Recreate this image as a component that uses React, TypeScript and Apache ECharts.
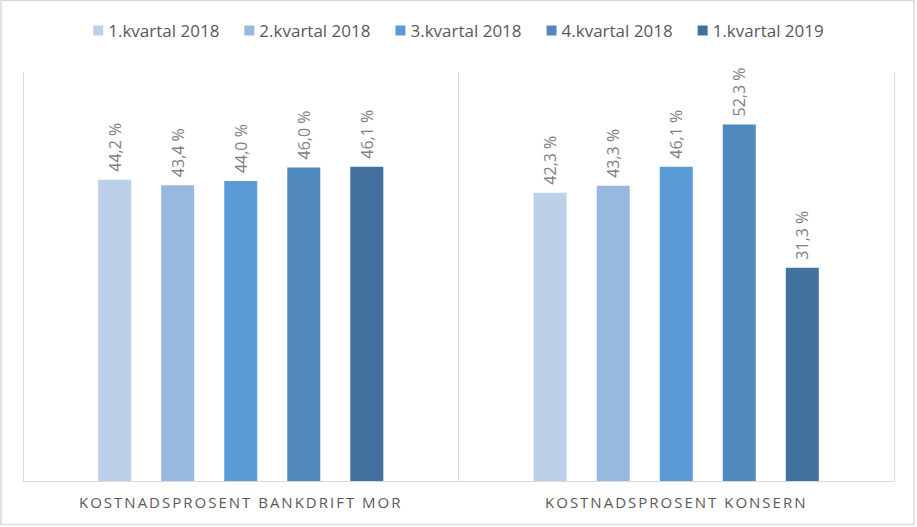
import React, { useEffect, useRef } from "react";
import * as echarts from "echarts";

const categories = ["KOSTNADSPROSENT BANKDRIFT MOR", "KOSTNADSPROSENT KONSERN"];
const seriesNames = ["1.kvartal 2018", "2.kvartal 2018", "3.kvartal 2018", "4.kvartal 2018", "1.kvartal 2019"];
const q1_2018 = [44.2, 42.3];
const q2_2018 = [43.4, 43.3];
const q3_2018 = [44.0, 46.1];
const q4_2018 = [46.0, 52.3];
const q1_2019 = [46.1, 31.3];
const seriesValues = [q1_2018, q2_2018, q3_2018, q4_2018, q1_2019];
const colors = ["#BDD0E9", "#97B9E0", "#5B9BD5", "#4F89BE", "#41719C"];

export default function App() {
  const ref = useRef<HTMLDivElement>(null);
  useEffect(() => {
    if (!ref.current) return;
    const chart = echarts.init(ref.current, null, { renderer: "svg" });
    chart.setOption({
      animation: false,
      backgroundColor: "#ffffff",
      textStyle: { fontFamily: "Open Sans" },
      graphic: [
        {
          type: "rect",
          shape: { x: 1, y: 0.5, width: 913, height: 524 },
          style: { fill: "none", stroke: "#D9D9D9", lineWidth: 1.5 },
          silent: true,
        },
      ],
      legend: {
        top: 17,
        left: "center",
        itemWidth: 10,
        itemHeight: 10,
        itemGap: 25,
        icon: "rect",
        textStyle: { color: "#595959", fontSize: 17, fontFamily: "Open Sans" },
        data: seriesNames,
      },
      grid: { left: 23, right: 23, top: 72, bottom: 46, containLabel: false },
      xAxis: {
        type: "category",
        data: categories,
        axisLine: { lineStyle: { color: "#D9D9D9", width: 1 } },
        axisTick: { show: false },
        splitLine: { show: true, lineStyle: { color: "#D9D9D9", width: 1 } },
        axisLabel: { color: "#595959", fontSize: 15, margin: 13, fontFamily: "Open Sans" },
      },
      yAxis: {
        type: "value",
        min: 0,
        max: 60,
        show: false,
        splitLine: { show: false },
      },
      series: seriesValues.map((vals, i) => ({
        name: seriesNames[i],
        type: "bar",
        data: vals,
        barWidth: 33,
        barGap: "91%",
        itemStyle: { color: colors[i] },
        label: {
          show: true,
          position: "top",
          rotate: 90,
          align: "left",
          verticalAlign: "middle",
          distance: 8,
          color: "#808080",
          fontSize: 16,
          fontFamily: "Open Sans",
          formatter: (p: any) => p.value.toFixed(1).replace(".", ",") + " %",
        },
      })),
    });
    const applySpacing = () => {
      const texts = ref.current?.querySelectorAll("text") || [];
      texts.forEach((t) => {
        if ((t.textContent || "").startsWith("KOSTNADSPROSENT")) {
          (t as SVGTextElement).style.letterSpacing = "2px";
        }
      });
    };
    applySpacing();
    chart.on("finished", applySpacing);
    return () => chart.dispose();
  }, []);
  return (
    <div
      ref={ref}
      style={{ position: "fixed", left: 0, top: 0, width: 917, height: 527 }}
    />
  );
}
